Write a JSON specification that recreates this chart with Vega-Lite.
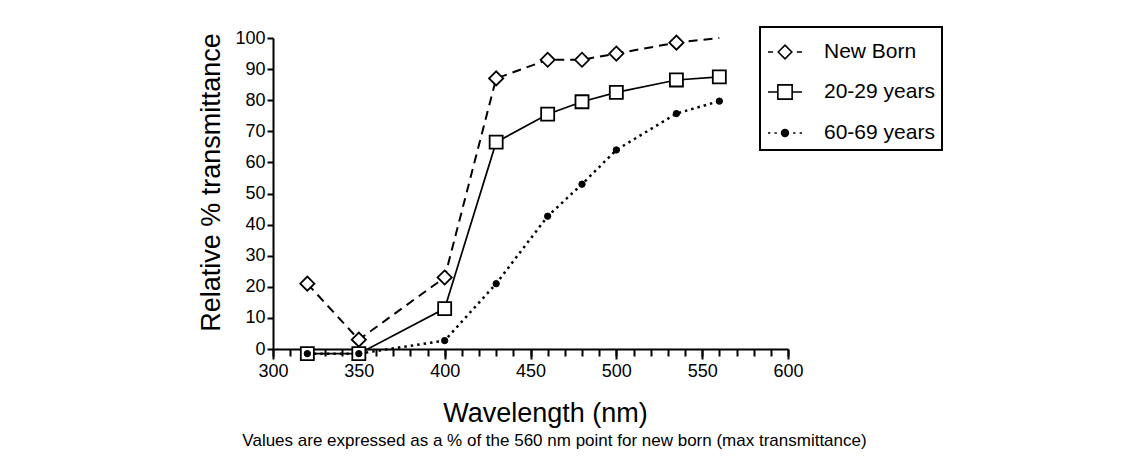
{
  "$schema": "https://vega.github.io/schema/vega-lite/v6.json",
  "width": 515,
  "height": 311,
  "autosize": "none",
  "padding": {"left": 273, "top": 38, "right": 337, "bottom": 117},
  "background": "white",
  "config": {
    "view": {"stroke": null},
    "font": "Liberation Sans",
    "axis": {
      "domainColor": "black",
      "domainWidth": 2,
      "tickColor": "black",
      "tickWidth": 2,
      "tickOpacity": 1,
      "ticks": true,
      "grid": false,
      "labelColor": "black",
      "titleColor": "black",
      "labelFont": "Liberation Sans",
      "titleFont": "Liberation Sans",
      "labelFontSize": 18,
      "titleFontSize": 27,
      "titleFontWeight": "normal",
      "labelFlush": false,
      "labelOverlap": false
    },
    "legend": {
      "strokeColor": "black",
      "strokeWidth": 2,
      "padding": 7,
      "labelFont": "Liberation Sans",
      "labelFontSize": 21,
      "labelColor": "black",
      "labelOffset": 21,
      "rowPadding": 12,
      "symbolSize": 1156,
      "symbolStrokeWidth": 1.6,
      "symbolStrokeColor": "black"
    }
  },
  "title": {
    "text": "Values are expressed as a % of the 560 nm point for new born (max transmittance)",
    "orient": "bottom",
    "anchor": "middle",
    "font": "Liberation Sans",
    "fontSize": 17,
    "fontWeight": "normal",
    "color": "black",
    "offset": 7,
    "dx": 24
  },
  "data": {
    "values": [
      {"series": "New Born", "wavelength": 320, "value": 21, "marked": true},
      {"series": "New Born", "wavelength": 350, "value": 3, "marked": true},
      {"series": "New Born", "wavelength": 400, "value": 23, "marked": true},
      {"series": "New Born", "wavelength": 430, "value": 87, "marked": true},
      {"series": "New Born", "wavelength": 460, "value": 93, "marked": true},
      {"series": "New Born", "wavelength": 480, "value": 93, "marked": true},
      {"series": "New Born", "wavelength": 500, "value": 95, "marked": true},
      {"series": "New Born", "wavelength": 535, "value": 98.5, "marked": true},
      {"series": "New Born", "wavelength": 560, "value": 100, "marked": false},
      {"series": "20-29 years", "wavelength": 320, "value": -1.5, "marked": true},
      {"series": "20-29 years", "wavelength": 350, "value": -1.5, "marked": true},
      {"series": "20-29 years", "wavelength": 400, "value": 13, "marked": true},
      {"series": "20-29 years", "wavelength": 430, "value": 66.5, "marked": true},
      {"series": "20-29 years", "wavelength": 460, "value": 75.5, "marked": true},
      {"series": "20-29 years", "wavelength": 480, "value": 79.5, "marked": true},
      {"series": "20-29 years", "wavelength": 500, "value": 82.5, "marked": true},
      {"series": "20-29 years", "wavelength": 535, "value": 86.5, "marked": true},
      {"series": "20-29 years", "wavelength": 560, "value": 87.5, "marked": true},
      {"series": "60-69 years", "wavelength": 320, "value": -1.5, "marked": true},
      {"series": "60-69 years", "wavelength": 350, "value": -1.5, "marked": true},
      {"series": "60-69 years", "wavelength": 400, "value": 2.7, "marked": true},
      {"series": "60-69 years", "wavelength": 430, "value": 21, "marked": true},
      {"series": "60-69 years", "wavelength": 460, "value": 42.7, "marked": true},
      {"series": "60-69 years", "wavelength": 480, "value": 53, "marked": true},
      {"series": "60-69 years", "wavelength": 500, "value": 64, "marked": true},
      {"series": "60-69 years", "wavelength": 535, "value": 75.7, "marked": true},
      {"series": "60-69 years", "wavelength": 560, "value": 79.7, "marked": true}
    ]
  },
  "encoding": {
    "y": {
      "field": "value",
      "type": "quantitative",
      "scale": {"domain": [0, 100], "nice": false, "zero": false},
      "axis": {
        "values": [0, 10, 20, 30, 40, 50, 60, 70, 80, 90, 100],
        "tickSize": 6,
        "labelPadding": 2,
        "title": "Relative % transmittance",
        "titlePadding": 9,
        "titleY": 144
      }
    }
  },
  "layer": [
    {
      "encoding": {
        "x": {
          "field": "wavelength",
          "type": "quantitative",
          "scale": {"domain": [300, 600], "nice": false, "zero": false},
          "axis": {
            "orient": "bottom",
            "tickCount": 30,
            "labelExpr": "datum.value % 50 === 0 ? datum.label : ''",
            "tickSize": 7,
            "labelPadding": 6,
            "title": "Wavelength (nm)",
            "titlePadding": 20,
            "titleX": 272
          }
        }
      },
      "layer": [
        {
          "transform": [{"filter": "datum.series === 'New Born'"}],
          "mark": {"type": "line", "color": "black", "strokeWidth": 2, "strokeDash": [9, 6]}
        },
        {
          "transform": [{"filter": "datum.series === '20-29 years'"}],
          "mark": {"type": "line", "color": "black", "strokeWidth": 1.7}
        },
        {
          "transform": [{"filter": "datum.series === '60-69 years'"}],
          "mark": {"type": "line", "color": "black", "strokeWidth": 2.5, "strokeDash": [2.5, 4]}
        },
        {
          "transform": [{"filter": "datum.series === 'New Born' && datum.marked"}],
          "mark": {"type": "point", "shape": "diamond", "size": 200, "filled": true, "fill": "white", "stroke": "black", "strokeWidth": 1.8, "opacity": 1}
        },
        {
          "transform": [{"filter": "datum.series === '20-29 years'"}],
          "mark": {"type": "point", "shape": "square", "size": 170, "filled": true, "fill": "white", "stroke": "black", "strokeWidth": 1.8, "opacity": 1}
        },
        {
          "transform": [{"filter": "datum.series === '60-69 years'"}],
          "mark": {"type": "point", "shape": "circle", "size": 40, "filled": true, "fill": "black", "stroke": "black", "strokeWidth": 1, "opacity": 1}
        }
      ]
    },
    {
      "transform": [{"filter": "false"}],
      "mark": {"type": "point", "filled": true, "strokeWidth": 1.6, "opacity": 1},
      "encoding": {
        "x": {
          "field": "wavelength",
          "type": "quantitative",
          "scale": {"domain": [300, 600], "nice": false, "zero": false},
          "axis": {
            "orient": "bottom",
            "values": [300, 350, 400, 450, 500, 550, 600],
            "tickSize": 10,
            "labels": false,
            "domain": false,
            "title": null
          }
        },
        "shape": {
          "field": "series",
          "type": "nominal",
          "scale": {
            "domain": ["New Born", "20-29 years", "60-69 years"],
            "range": [
              "M-1,0H-0.7M-0.4,0L0,-0.4L0.4,0L0,0.4ZM0.7,0H1",
              "M-1,0H-0.42M-0.42,-0.42H0.42V0.42H-0.42ZM0.42,0H1",
              "M-1,0H-0.86M-0.62,0H-0.48M-0.2,0A0.2,0.2 0 1,0 0.2,0A0.2,0.2 0 1,0 -0.2,0ZM0.48,0H0.62M0.86,0H1"
            ]
          },
          "legend": {
            "orient": "none",
            "legendX": 487,
            "legendY": -11,
            "title": null,
            "rowPadding": 12,
            "symbolSize": 1156
          }
        },
        "fill": {
          "field": "series",
          "type": "nominal",
          "scale": {
            "domain": ["New Born", "20-29 years", "60-69 years"],
            "range": ["white", "white", "black"]
          },
          "legend": {
            "orient": "none",
            "legendX": 487,
            "legendY": -11,
            "title": null,
            "rowPadding": 12,
            "symbolSize": 1156
          }
        },
        "stroke": {
          "field": "series",
          "type": "nominal",
          "scale": {
            "domain": ["New Born", "20-29 years", "60-69 years"],
            "range": ["black", "black", "black"]
          },
          "legend": {
            "orient": "none",
            "legendX": 487,
            "legendY": -11,
            "title": null,
            "rowPadding": 12,
            "symbolSize": 1156
          }
        }
      }
    }
  ],
  "resolve": {"axis": {"x": "independent"}}
}
